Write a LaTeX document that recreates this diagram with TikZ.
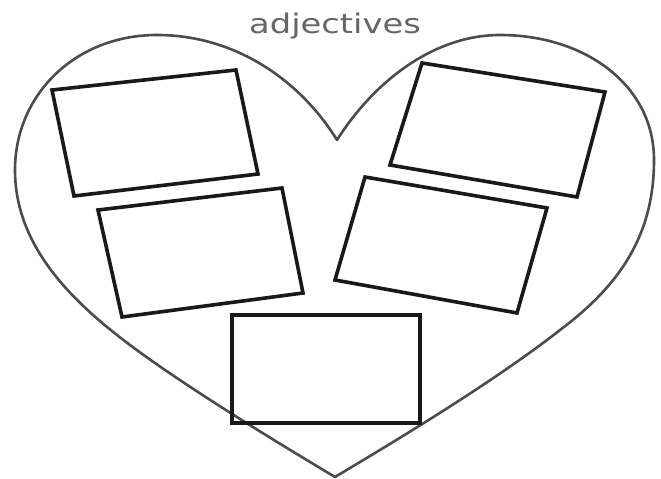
\documentclass[tikz,border=0pt]{standalone}
\usepackage{fontspec}
\newfontfamily\labelfont{DejaVu Sans}
\begin{document}
\begin{tikzpicture}[x=1pt,y=-1pt,
  heartline/.style={draw=black!70, line width=2.6pt, line join=round},
  wordbox/.style={draw=black!90, line width=3.6pt, line join=miter}]
\useasboundingbox[fill=white] (0,0) rectangle (661,479);
% heart
\draw[heartline] (337,140)
  .. controls (300,80) and (235,35) .. (157,35)
  .. controls (75,35) and (15,95) .. (15,170)
  .. controls (15,245) and (70,300) .. (130,345)
  .. controls (190,390) and (290,450) .. (335,477)
  .. controls (380,450) and (490,385) .. (560,330)
  .. controls (620,285) and (654,235) .. (654,160)
  .. controls (654,85) and (585,35) .. (500,35)
  .. controls (435,35) and (375,80) .. (337,140) -- cycle;
% title
\node[text=black!60, font={\labelfont\fontsize{27}{30}\selectfont}, xscale=1.25, anchor=base] (title) at (335,33) {adjectives};
% boxes
\draw[wordbox] (52,90) -- (236,70) -- (258,174) -- (74,196) -- cycle;
\draw[wordbox] (98,210) -- (282,188) -- (303,293) -- (122,317) -- cycle;
\draw[wordbox] (422,63) -- (605,92) -- (577,197) -- (390,165) -- cycle;
\draw[wordbox] (365,177) -- (547,208) -- (517,313) -- (335,280) -- cycle;
\draw[wordbox] (232,315) rectangle (420,423);
\end{tikzpicture}
\end{document}
